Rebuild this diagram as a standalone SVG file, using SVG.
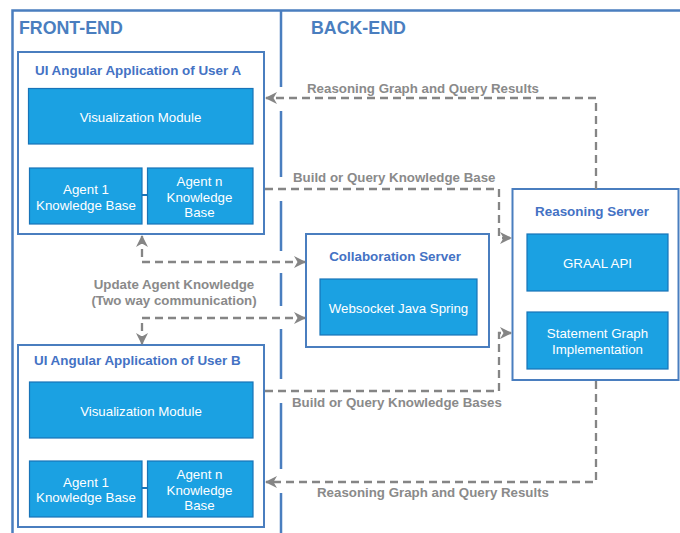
<svg xmlns="http://www.w3.org/2000/svg" width="680" height="533" viewBox="0 0 680 533">
<style>
.frame{fill:none;stroke:#4a7ebf;stroke-width:2.5}
.box{fill:#fff;stroke:#4a7ebf;stroke-width:2}
.mod{fill:#1ba1e2;stroke:#1874b8;stroke-width:1.2}
.sec{font-family:"Liberation Sans",Arial,sans-serif;font-weight:bold;font-size:17.8px;fill:#4a7ebf}
.ttl{font-family:"Liberation Sans",Arial,sans-serif;font-weight:bold;font-size:13.4px;fill:#4472c4}
.mt{font-family:"Liberation Sans",Arial,sans-serif;font-size:13.3px;fill:#fff;text-anchor:middle}
.lbl{font-family:"Liberation Sans",Arial,sans-serif;font-weight:bold;font-size:13.3px;fill:#8a8a8a}
.con{fill:none;stroke:#858585;stroke-width:2.3;stroke-dasharray:8 5}
</style>
<defs>
<marker id="ah" viewBox="0 0 12 12" refX="11" refY="6" markerWidth="12" markerHeight="12" markerUnits="userSpaceOnUse" orient="auto-start-reverse">
<path d="M0,0 L12,6 L0,12 L3.5,6 Z" fill="#858585"/>
</marker>
</defs>
<rect width="680" height="533" fill="#fff"/>
<g id="frame">
<path class="frame" d="M12.5,533 V10.5 H680"/>
<path class="frame" d="M281,10 V87 M281,111 V177 M281,201 V251 M281,273 V306 M281,329 V379 M281,403 V469 M281,493 V533"/>
<text class="sec" x="19" y="34">FRONT-END</text>
<text class="sec" x="311" y="34">BACK-END</text>
</g>
<g id="userA">
<rect class="box" x="18" y="52" width="246" height="182"/>
<text class="ttl" x="35" y="75">UI Angular Application of User A</text>
<rect class="mod" x="28.5" y="88.5" width="224.5" height="55.5"/>
<text class="mt" x="140.5" y="121.5">Visualization Module</text>
<line x1="142" y1="195" x2="147" y2="195" stroke="#1874b8" stroke-width="2"/>
<rect class="mod" x="29.5" y="168" width="112.5" height="56"/>
<text class="mt" x="86" y="194">Agent 1</text>
<text class="mt" x="86" y="210">Knowledge Base</text>
<rect class="mod" x="147.5" y="168" width="105.5" height="56"/>
<text class="mt" x="199.5" y="186">Agent n</text>
<text class="mt" x="199.5" y="202">Knowledge</text>
<text class="mt" x="199.5" y="217">Base</text>
</g>
<g id="userB">
<rect class="box" x="18" y="345" width="246" height="182"/>
<text class="ttl" x="34" y="365">UI Angular Application of User B</text>
<rect class="mod" x="29.5" y="382" width="223.5" height="56"/>
<text class="mt" x="141" y="415.5">Visualization Module</text>
<line x1="142" y1="488" x2="147" y2="488" stroke="#1874b8" stroke-width="2"/>
<rect class="mod" x="29.5" y="461" width="112.5" height="56"/>
<text class="mt" x="86" y="486.5">Agent 1</text>
<text class="mt" x="86" y="502">Knowledge Base</text>
<rect class="mod" x="147.5" y="461" width="105.5" height="56"/>
<text class="mt" x="199.5" y="479">Agent n</text>
<text class="mt" x="199.5" y="495">Knowledge</text>
<text class="mt" x="199.5" y="510">Base</text>
</g>
<g id="collab">
<rect class="box" x="306" y="234" width="183" height="113"/>
<text class="ttl" x="395" y="261" text-anchor="middle">Collaboration Server</text>
<rect class="mod" x="320" y="279" width="157" height="56"/>
<text class="mt" x="398.5" y="312.5">Websocket Java Spring</text>
</g>
<g id="reasoning">
<rect class="box" x="512.5" y="189" width="166" height="191"/>
<text class="ttl" x="592" y="216" text-anchor="middle">Reasoning Server</text>
<rect class="mod" x="527" y="234" width="141" height="57"/>
<text class="mt" x="597.5" y="267.5">GRAAL API</text>
<rect class="mod" x="527" y="312" width="141" height="57"/>
<text class="mt" x="597.5" y="338">Statement Graph</text>
<text class="mt" x="597.5" y="354">Implementation</text>
</g>
<g id="connectors">
<path class="con" d="M596,189 V98 H266" marker-end="url(#ah)"/>
<path class="con" d="M265,189 H499 V238 H511" marker-end="url(#ah)"/>
<path class="con" d="M142,236 V262 H305" marker-start="url(#ah)" marker-end="url(#ah)"/>
<path class="con" d="M142,344 V318 H305" marker-start="url(#ah)" marker-end="url(#ah)"/>
<path class="con" d="M265,391 H499 V333 H511" marker-end="url(#ah)"/>
<path class="con" d="M596,381 V482 H266" marker-end="url(#ah)"/>
<text class="lbl" x="307" y="93">Reasoning Graph and Query Results</text>
<text class="lbl" x="293" y="182">Build or Query Knowledge Base</text>
<text class="lbl" x="174" y="289" text-anchor="middle">Update Agent Knowledge</text>
<text class="lbl" x="174" y="305" text-anchor="middle">(Two way communication)</text>
<text class="lbl" x="292" y="407">Build or Query Knowledge Bases</text>
<text class="lbl" x="317" y="497">Reasoning Graph and Query Results</text>
</g>
</svg>
